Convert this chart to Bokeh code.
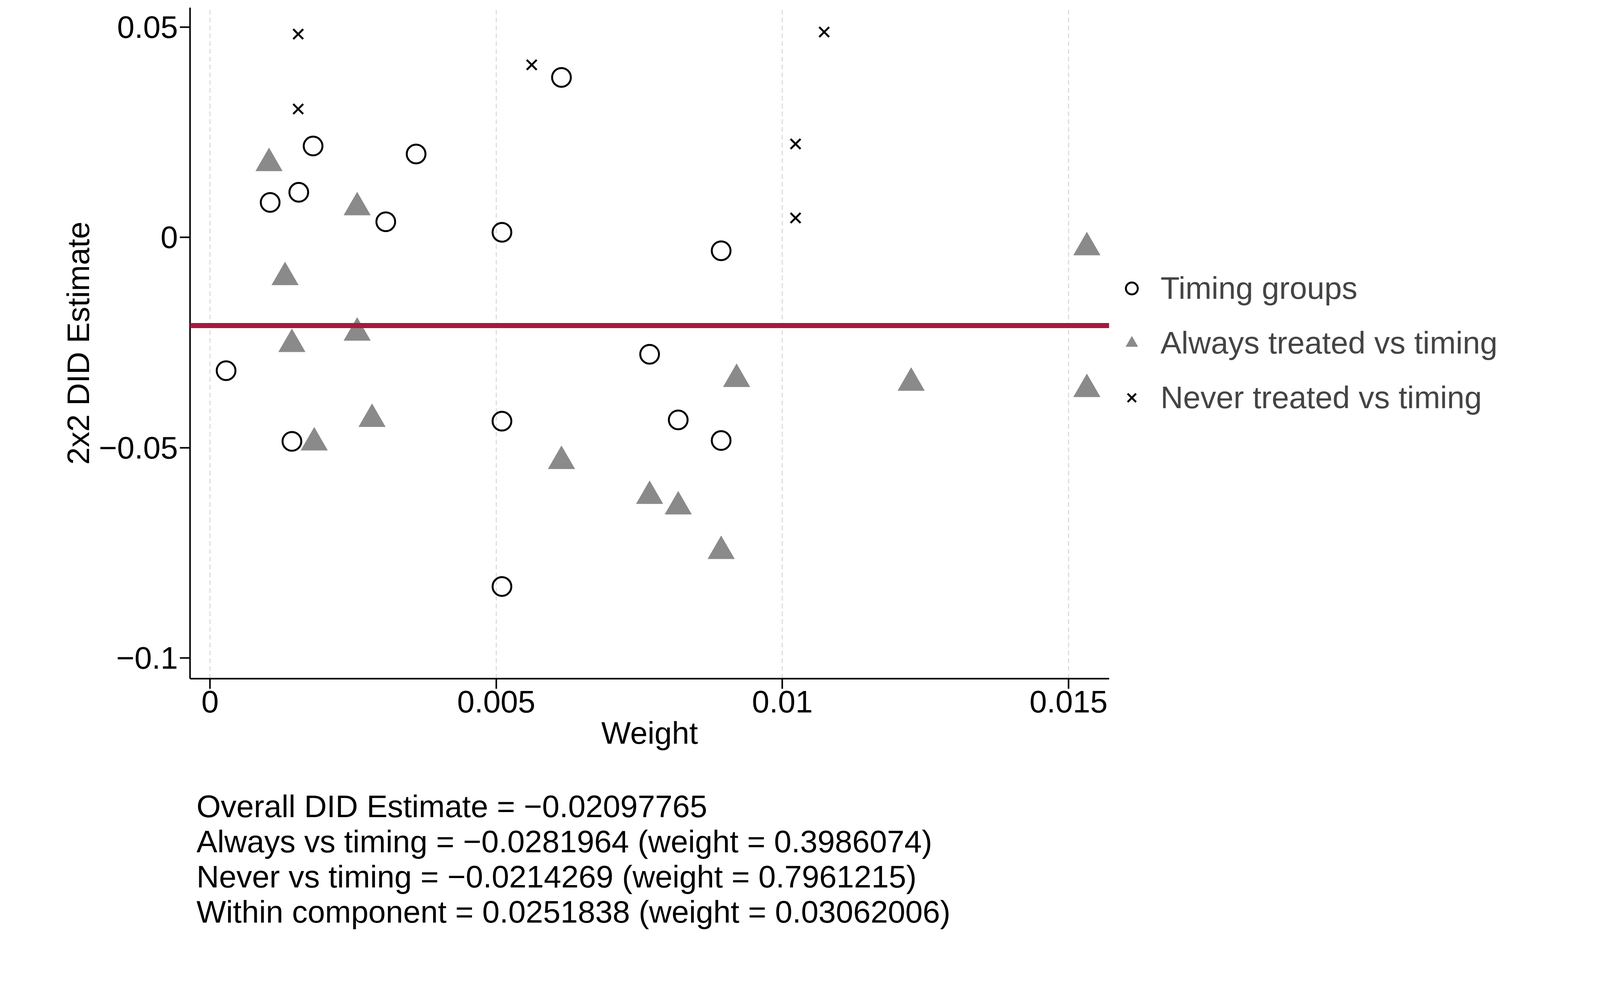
from bokeh.plotting import figure
from bokeh.models import FixedTicker, Legend, LegendItem, Span, Div
from bokeh.layouts import column
from bokeh.embed import file_html
from bokeh.resources import INLINE

timing_x = [0.00028,0.00105,0.00155,0.0018,0.00143,0.00307,0.0036,0.0051,0.0051,0.0051,0.00614,0.00768,0.00818,0.00893,0.00893]
timing_y = [-0.0317,0.0083,0.0107,0.0217,-0.0485,0.0037,0.0198,0.0012,-0.0437,-0.083,0.038,-0.0278,-0.0434,-0.0032,-0.0483]
always_x = [0.00103,0.00131,0.00143,0.00182,0.00257,0.00257,0.00283,0.00614,0.00768,0.00818,0.00893,0.0092,0.01225,0.01532,0.01532]
always_y = [0.0176,-0.0095,-0.0254,-0.0488,0.0071,-0.0227,-0.0432,-0.0532,-0.0615,-0.064,-0.0746,-0.0337,-0.0346,-0.0024,-0.0361]
never_x = [0.00154,0.00154,0.00562,0.01023,0.01023,0.01073]
never_y = [0.0483,0.0305,0.041,0.0222,0.0046,0.0488]
overall = -0.02097765
x_ticks = [0, 0.005, 0.01, 0.015]
x_labels = ["0", "0.005", "0.01", "0.015"]
y_ticks = [0.05, 0, -0.05, -0.1]
y_labels = ["0.05", "0", "\u22120.05", "\u22120.1"]
notes = ["Overall DID Estimate = \u22120.02097765",
         "Always vs timing = \u22120.0281964 (weight = 0.3986074)",
         "Never vs timing = \u22120.0214269 (weight = 0.7961215)",
         "Within component = 0.0251838 (weight = 0.03062006)"]

F = "Liberation Sans"
p = figure(width=4278, height=2040, output_backend="svg", toolbar_location=None,
           x_range=(-0.00035, 0.01571), y_range=(-0.1049, 0.0546),
           min_border_left=486, min_border_right=10, min_border_top=19, min_border_bottom=303)
p.outline_line_color = None
p.ygrid.grid_line_color = None
p.xgrid.grid_line_color = "#dddddd"
p.xgrid.grid_line_width = 3
p.xgrid.grid_line_dash = "12 8"
p.xaxis.ticker = FixedTicker(ticks=x_ticks)
p.yaxis.ticker = FixedTicker(ticks=y_ticks)
p.xaxis.major_label_overrides = dict(zip(x_ticks, x_labels))
p.yaxis.major_label_overrides = dict(zip(y_ticks, y_labels))
p.xaxis.axis_label = "Weight"
p.yaxis.axis_label = "2x2 DID Estimate"
for ax in (p.xaxis, p.yaxis):
    ax.axis_line_width = 4
    ax.major_tick_line_width = 4
    ax.major_tick_out = 26
    ax.major_tick_in = 0
    ax.minor_tick_line_color = None
    ax.major_label_text_font = F
    ax.major_label_text_font_size = "80px"
    ax.major_label_text_color = "black"
    ax.axis_label_text_font = F
    ax.axis_label_text_font_size = "80px"
    ax.axis_label_text_font_style = "normal"
    ax.axis_label_text_color = "black"
p.yaxis.major_label_orientation = "horizontal"

c = p.scatter(timing_x, timing_y, marker="circle", size=48, fill_color=None, line_color="black", line_width=5)
t = p.scatter(always_x, always_y, marker="triangle", size=68, fill_color="#8a8a8a", line_color="#8a8a8a")
x = p.scatter(never_x, never_y, marker="x", size=36, line_color="black", line_width=5)
p.add_layout(Span(location=overall, dimension="width", line_color="#a31a3f", line_width=13))

leg = Legend(items=[LegendItem(label="Timing groups", renderers=[c]),
                    LegendItem(label="Always treated vs timing", renderers=[t]),
                    LegendItem(label="Never treated vs timing", renderers=[x])],
             location="left", border_line_color=None, background_fill_alpha=0, margin=20,
             label_text_font=F, label_text_font_size="80px", glyph_width=76, glyph_height=76,
             label_standoff=36, spacing=48)
p.add_layout(leg, "right")

div = Div(text="<br>".join(notes), width=3500,
          styles={"font-family": F, "font-size": "80px", "line-height": "90px", "color": "black",
                  "margin-left": "503px", "margin-top": "-20px", "white-space": "nowrap"})
lay = column(p, div)
open("out.html", "w").write(file_html(lay, INLINE))
